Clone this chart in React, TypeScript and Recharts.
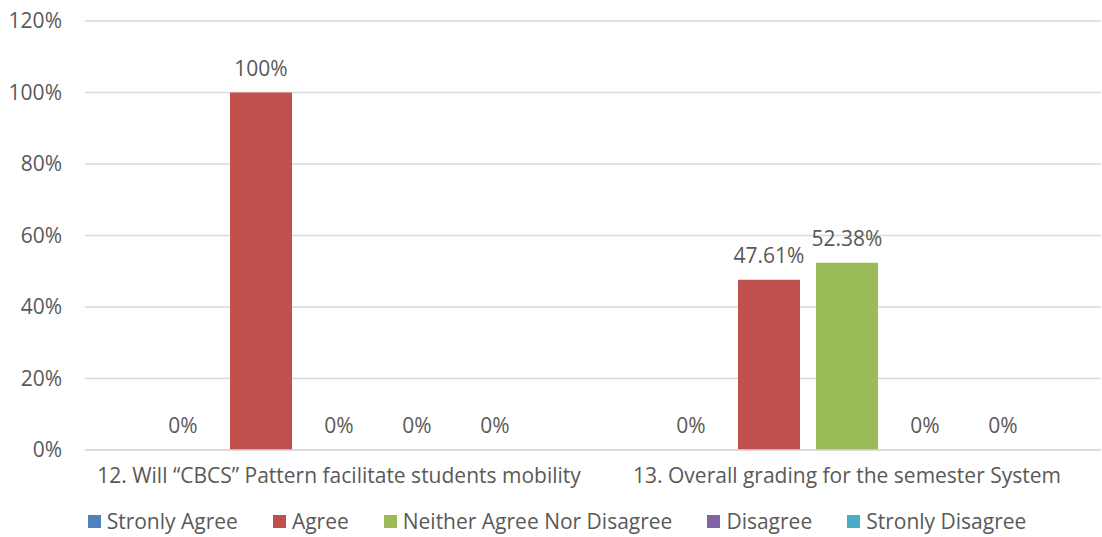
import React from "react";
import { BarChart, Bar, XAxis, YAxis, CartesianGrid, Legend, LabelList } from "recharts";

const categories = [
  "12. Will “CBCS” Pattern facilitate students mobility",
  "13. Overall grading for the semester System",
];
const seriesNames = ["Stronly Agree", "Agree", "Neither Agree Nor Disagree", "Disagree", "Stronly Disagree"];
const stronglyAgree = [0, 0];
const agree = [100, 47.61];
const neither = [0, 52.38];
const disagree = [0, 0];
const stronglyDisagree = [0, 0];
const yTicks = [0, 20, 40, 60, 80, 100, 120];

const seriesValues = [stronglyAgree, agree, neither, disagree, stronglyDisagree];
const colors = ["#4f81bd", "#c0504d", "#9bbb59", "#8064a2", "#4bacc6"];
const keys = ["s0", "s1", "s2", "s3", "s4"];

const data = categories.map((c, i) => {
  const row: any = { name: c };
  keys.forEach((k, j) => (row[k] = seriesValues[j][i]));
  return row;
});

const FONT = "'Open Sans', sans-serif";
const TEXT = "#595959";
const FS = 21;

const renderLegend = () => {
  return (
    <div style={{ display: "flex", justifyContent: "center", fontFamily: FONT, fontSize: FS, color: TEXT, paddingLeft: 12, lineHeight: "28px", height: 28 }}>
      {seriesNames.map((n, i) => (
        <div key={i} style={{ display: "flex", alignItems: "center", marginRight: i < seriesNames.length - 1 ? 35 : 0 }}>
          <span style={{ display: "inline-block", width: 13, height: 13, background: colors[i], marginRight: 6 }} />
          <span>{n}</span>
        </div>
      ))}
    </div>
  );
};

export default function App() {
  return (
    <div style={{ position: "absolute", left: 0, top: 0, width: 1102, height: 537, background: "#fff" }}>
      <BarChart
        width={1102}
        height={537}
        data={data}
        margin={{ top: 21, right: 1, left: 10, bottom: 47 }}
        barGap={16}
        barSize={62}
      >
        <CartesianGrid vertical={false} stroke="#d9d9d9" strokeWidth={1.5} />
        <XAxis
          dataKey="name"
          axisLine={{ stroke: "#d9d9d9", strokeWidth: 1.5 }}
          tickLine={false}
          tickMargin={12}
          height={40}
          interval={0}
          tick={{ fill: TEXT, fontSize: FS, fontFamily: FONT }}
        />
        <YAxis
          width={75}
          domain={[0, 120]}
          ticks={yTicks}
          axisLine={false}
          tickLine={false}
          tickMargin={17}
          tickFormatter={(v: number) => `${v}%`}
          tick={{ fill: TEXT, fontSize: FS, fontFamily: FONT }}
        />
        <Legend
          verticalAlign="middle"
          align="center"
          wrapperStyle={{ top: 507, left: 0, width: 1102, height: 28 }}
          content={renderLegend}
        />
        {keys.map((k, j) => (
          <Bar key={k} dataKey={k} name={seriesNames[j]} fill={colors[j]} minPointSize={0.01} isAnimationActive={false}>
            <LabelList
              dataKey={k}
              position="top"
              offset={17}
              formatter={(v: any) => `${v}%`}
              style={{ fill: TEXT, fontSize: FS, fontFamily: FONT }}
            />
          </Bar>
        ))}
      </BarChart>
    </div>
  );
}
